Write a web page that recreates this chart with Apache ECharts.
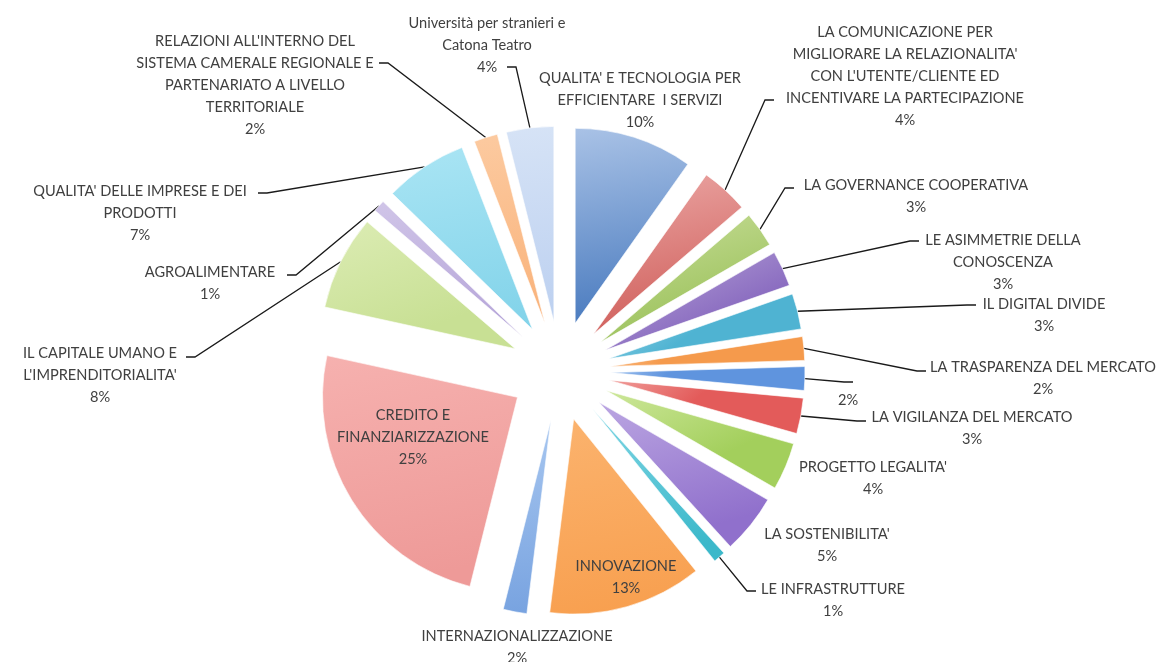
<!DOCTYPE html>
<html>
<head>
<meta charset="utf-8">
<script src="https://cdn.jsdelivr.net/npm/echarts@6/dist/echarts.min.js"></script>
<style>
  html, body { margin: 0; padding: 0; background: #ffffff; }
  #chart { width: 1171px; height: 662px; }
</style>
</head>
<body>
<div id="chart"></div>
<script>
// Slices, clockwise from twelve o'clock
const categories = [
  "QUALITA' E TECNOLOGIA PER\nEFFICIENTARE  I SERVIZI",
  "LA COMUNICAZIONE PER\nMIGLIORARE LA RELAZIONALITA'\nCON L'UTENTE/CLIENTE ED\nINCENTIVARE LA PARTECIPAZIONE",
  "LA GOVERNANCE COOPERATIVA",
  "LE ASIMMETRIE DELLA\nCONOSCENZA",
  "IL DIGITAL DIVIDE",
  "LA TRASPARENZA DEL MERCATO",
  "",
  "LA VIGILANZA DEL MERCATO",
  "PROGETTO LEGALITA'",
  "LA SOSTENIBILITA'",
  "LE INFRASTRUTTURE",
  "INNOVAZIONE",
  "INTERNAZIONALIZZAZIONE",
  "CREDITO E\nFINANZIARIZZAZIONE",
  "IL CAPITALE UMANO E\nL'IMPRENDITORIALITA'",
  "AGROALIMENTARE",
  "QUALITA' DELLE IMPRESE E DEI\nPRODOTTI",
  "RELAZIONI ALL'INTERNO DEL\nSISTEMA CAMERALE REGIONALE E\nPARTENARIATO A LIVELLO\nTERRITORIALE",
  "Università per stranieri e\nCatona Teatro"
];

// Share of each slice, in percent
const shares = [10, 4, 3, 3, 3, 2, 2, 3, 4, 5, 1, 13, 2, 25, 8, 1, 7, 2, 4];

// Fill of each slice: lighter tint at the top, full tone at the bottom
const topTints = [
  '#a9c2e6', '#eba7a5', '#cadf9c', '#bcaadb', '#9cd8ea', '#fbc08c',
  '#a0c2ee', '#f09d9a', '#cde79a', '#bba6e2', '#80d6e4', '#fbb36e',
  '#a8c7f0', '#f6b1af', '#dcecb4', '#d0c5e8', '#aae5f4', '#fccaa0', '#d6e3f6'
];
const baseTones = [
  '#4a7bbf', '#d0605c', '#9cc25c', '#8a6cc0', '#4fb3d2', '#f59a4c',
  '#5f94de', '#e35b5a', '#a3cf5c', '#9070cc', '#3bb8ca', '#f8a050',
  '#78a3e0', '#ee9a98', '#c8e094', '#b8a8da', '#84d4ea', '#f9b27a', '#bcd0f0'
];

// Where each label block sits and where its leader line meets it
const labelSpots = [
  { at: [640, 100] },
  { at: [905, 76],   tick: [774, 100] },
  { at: [916, 196],  tick: [794, 188] },
  { at: [1003, 262], tick: [919, 241] },
  { at: [1044, 315], tick: [976, 305] },
  { at: [1043, 378], tick: [926, 371] },
  { at: [848, 400],  tick: [853, 382] },
  { at: [972, 428],  tick: [866, 421] },
  { at: [873, 478] },
  { at: [827, 545] },
  { at: [833, 600],  tick: [756, 591] },
  { at: [626, 577] },
  { at: [517, 647] },
  { at: [413, 437] },
  { at: [100, 375],  tick: [186, 357] },
  { at: [210, 283],  tick: [287, 275] },
  { at: [140, 213],  tick: [258, 193] },
  { at: [255, 85],   tick: [379, 63] },
  { at: [487, 45],   tick: [507, 67] }
];

// Pie geometry: every slice is pulled out from the common centre
const CX = 560, CY = 371, R = 195, EXPLODE = 50;
const TEXT = '#404040';

const total = shares.reduce((a, b) => a + b, 0);
let run = 0;
const midAngles = shares.map(v => {
  const m = (run + v / 2) / total * 2 * Math.PI;
  run += v;
  return m;
});

function fillFor(i) {
  return {
    type: 'linear', x: 0, y: 0, x2: 0.25, y2: 1,
    colorStops: [
      { offset: 0, color: topTints[i] },
      { offset: 1, color: baseTones[i] }
    ]
  };
}

// One pie per slice so each can carry its own outward shift
const series = shares.map((v, i) => {
  const dx = EXPLODE * Math.sin(midAngles[i]);
  const dy = -EXPLODE * Math.cos(midAngles[i]);
  const spot = labelSpots[i];
  return {
    type: 'pie',
    center: [CX + dx, CY + dy],
    radius: [0, R],
    startAngle: 90,
    clockwise: true,
    avoidLabelOverlap: false,
    silent: true,
    animation: false,
    label: {
      show: false,
      position: 'outside',
      color: TEXT,
      fontFamily: 'Lato',
      fontSize: 14.6,
      lineHeight: 22,
      align: 'center',
      formatter: p => (p.name ? p.name + '\n' : '') + p.value + '%'
    },
    labelLine: {
      show: false,
      lineStyle: { color: '#1a1a1a', width: 1.3 }
    },
    labelLayout: p => {
      if (p.dataIndex !== i) return {};
      const out = { x: spot.at[0], y: spot.at[1], align: 'center', verticalAlign: 'middle' };
      if (spot.tick) {
        const reach = EXPLODE + R;
        const a = midAngles[i];
        const p0 = [CX + reach * Math.sin(a), CY - reach * Math.cos(a)];
        const dir = spot.tick[0] < p0[0] ? 1 : -1;
        const p1 = [spot.tick[0] + dir * 9, spot.tick[1]];
        out.labelLinePoints = [p0, p1, spot.tick];
      }
      return out;
    },
    data: categories.map((name, j) => ({
      name: name,
      value: shares[j],
      itemStyle: j === i
        ? { color: fillFor(j), borderColor: 'rgba(255,255,255,0.6)', borderWidth: 1 }
        : { color: 'rgba(0,0,0,0)' },
      label: { show: j === i },
      labelLine: { show: j === i && !!spot.tick }
    }))
  };
});

const chart = echarts.init(document.getElementById('chart'), null, { renderer: 'canvas' });
chart.setOption({
  backgroundColor: '#ffffff',
  animation: false,
  series: series
});
</script>
</body>
</html>
